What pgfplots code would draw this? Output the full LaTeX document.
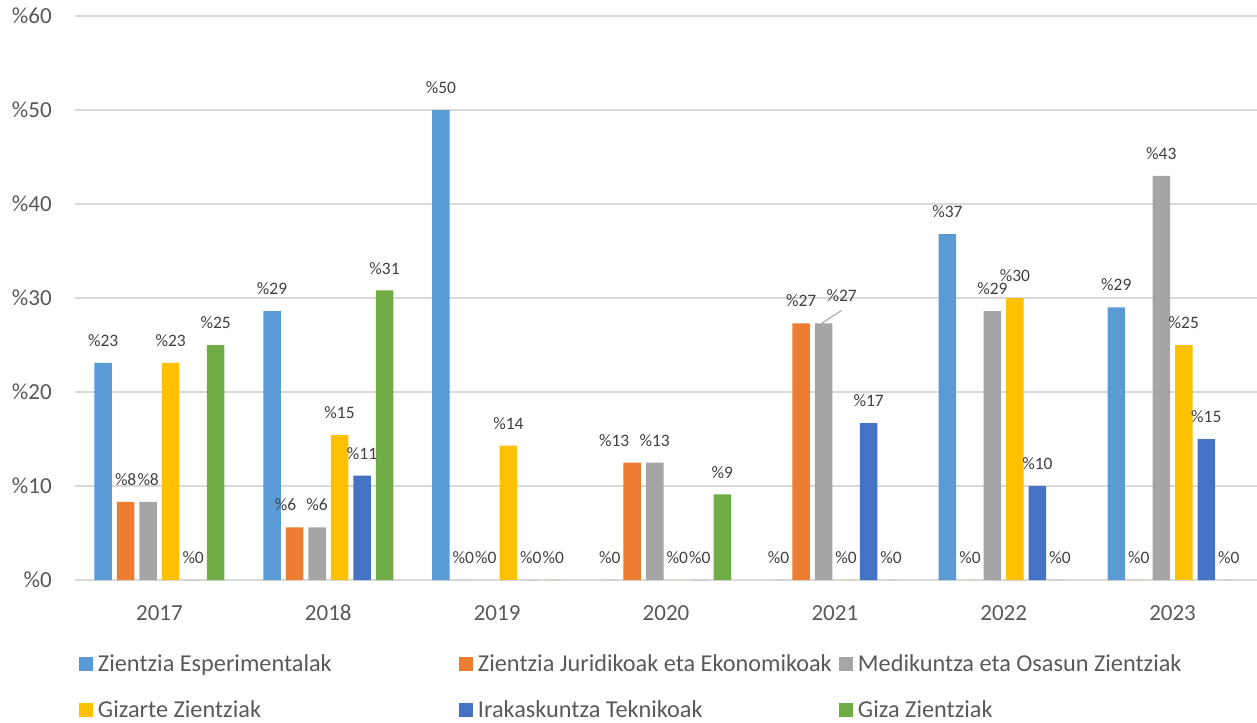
\documentclass[border=0pt]{standalone}
\usepackage{pgfplots}
\pgfplotsset{compat=1.18}
\usepackage{fontspec}
\setmainfont{Carlito}
\definecolor{cA}{HTML}{5B9BD5}
\definecolor{cB}{HTML}{ED7D31}
\definecolor{cC}{HTML}{A5A5A5}
\definecolor{cD}{HTML}{FFC000}
\definecolor{cE}{HTML}{4472C4}
\definecolor{cF}{HTML}{70AD47}
\definecolor{txt}{HTML}{595959}
\definecolor{lbl}{HTML}{404040}
\definecolor{gridc}{HTML}{D9D9D9}
\definecolor{leader}{HTML}{A6A6A6}
\pgfplotsset{sq/.style={fill=#1, draw=none,
  legend image code/.code={\fill[##1] (0pt,-5.25pt) rectangle (10.5pt,5.25pt);}}}
\begin{document}
\begin{tikzpicture}
\path[use as bounding box] (-56.25pt,-106.5pt) rectangle (886.5pt,435pt);
\begin{axis}[
  at={(0,0)}, anchor=south west,
  scale only axis, width=886.5pt, height=423pt,
  xmin=-0.5, xmax=6.5, ymin=0, ymax=60,
  ybar=3.75pt, bar width=13.125pt,
  xtick={0,1,2,3,4,5,6},
  xticklabels={2017,2018,2019,2020,2021,2022,2023},
  ytick={0,10,20,30,40,50,60},
  yticklabel={\%\pgfmathprintnumber[assume math mode=true]{\tick}},
  major tick length=0pt,
  axis line style={draw=none},
  ymajorgrids, grid style={draw=gridc, line width=1pt},
  tick label style={font=\fontsize{17.25}{20}\selectfont, text=txt, inner sep=0pt},
  xticklabel style={anchor=north, yshift=-18.75pt},
  yticklabel style={anchor=east, xshift=-17.25pt},
  nodes near coords={\%\pgfmathprintnumber[fixed,precision=0,assume math mode=true]{\pgfplotspointmeta}},
  every node near coord/.append style={font=\fontsize{13.1}{15}\selectfont, text=lbl, inner sep=0pt, anchor=south, yshift=12pt},
  legend columns=3,
  legend cell align=left,
  legend style={draw=none, fill=none, inner sep=0pt, outer sep=0pt,
    at={(axis description cs:0,0)}, anchor=north west, xshift=3pt, yshift=-56pt,
    font=\fontsize{18.2}{21}\selectfont, text=txt, row sep=20pt,
    nodes={inner sep=0pt},
    /tikz/every odd column/.append style={column sep=3.75pt},
    /tikz/every even column/.append style={column sep=0pt}},
]
\addplot[sq=cA] coordinates {(0,23.1) (1,28.6) (2,50) (3,0) (4,0) (5,36.8) (6,29)};
\addlegendentry{\makebox[270.75pt][l]{Zientzia Esperimentalak}}
\addplot[sq=cB, coordinate style/.condition={\coordindex==1}{xshift=-6.75pt},
   coordinate style/.condition={\coordindex==3}{xshift=-13.5pt}]
   coordinates {(0,8.3) (1,5.6) (2,0) (3,12.5) (4,27.3) (5,0) (6,0)};
\addlegendentry{\makebox[270.75pt][l]{Zientzia Juridikoak eta Ekonomikoak}}
\addplot[sq=cC, coordinate style/.condition={\coordindex==4}{xshift=13.5pt, yshift=3.75pt,
   append after command={([yshift=-6pt]\tikzlastnode.south) edge[draw=leader, line width=0.75pt] ++(-15pt,-9.75pt)}}]
   coordinates {(0,8.3) (1,5.6) (2,0) (3,12.5) (4,27.3) (5,28.6) (6,43)};
\addlegendentry{Medikuntza eta Osasun Zientziak}
\addplot[sq=cD] coordinates {(0,23.1) (1,15.4) (2,14.3) (3,0) (4,0) (5,30) (6,25)};
\addlegendentry{\makebox[270.75pt][l]{Gizarte Zientziak}}
\addplot[sq=cE] coordinates {(0,0) (1,11.1) (2,0) (3,0) (4,16.7) (5,10) (6,15)};
\addlegendentry{\makebox[270.75pt][l]{Irakaskuntza Teknikoak}}
\addplot[sq=cF] coordinates {(0,25) (1,30.8) (2,0) (3,9.1) (4,0) (5,0) (6,0)};
\addlegendentry{Giza Zientziak}
\end{axis}
\end{tikzpicture}
\end{document}
